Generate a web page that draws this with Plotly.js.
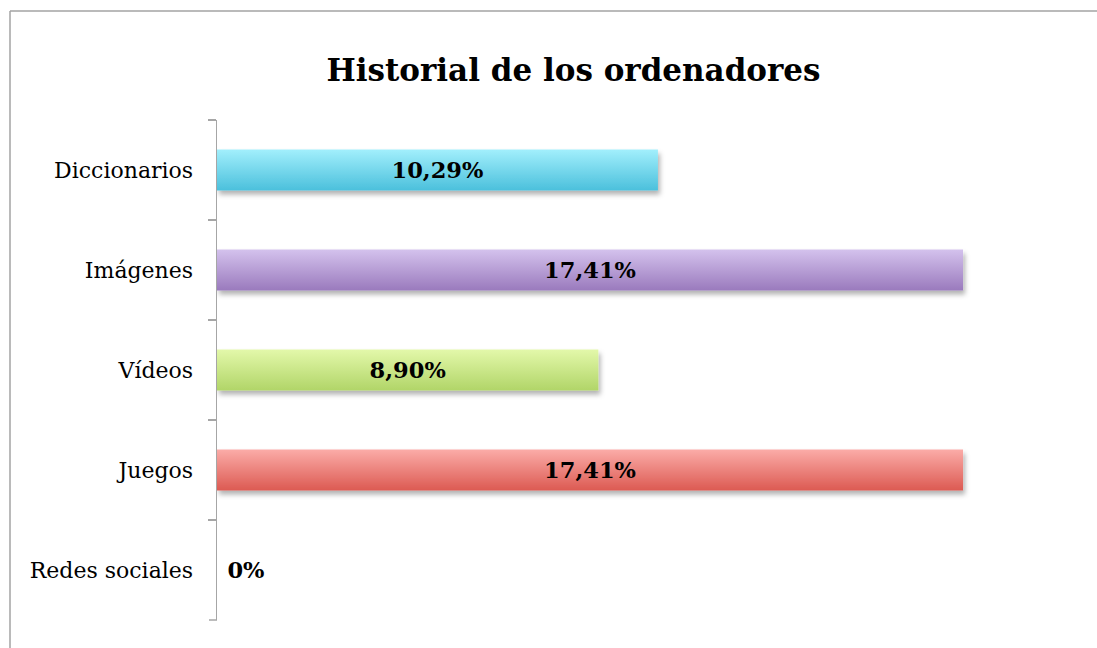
<!DOCTYPE html>
<html>
<head>
<meta charset="utf-8">
<script src="https://cdn.plot.ly/plotly-3.0.1.min.js"></script>
<style>
  html, body { margin: 0; padding: 0; background: #fff; }
  #chart { width: 1097px; height: 648px; }
</style>
</head>
<body>
<div id="chart"></div>
<script>
// ---- data (top to bottom) ----
const categories = ["Diccionarios", "Imágenes", "Vídeos", "Juegos", "Redes sociales"];
const values = [10.29, 17.41, 8.90, 17.41, 0];
const valueLabels = ["10,29%", "17,41%", "8,90%", "17,41%", "0%"];
const chartTitle = "Historial de los ordenadores";

// ---- styles ----
const FONT = "DejaVu Serif";
const topColors = ["#a2effc", "#d4c2ed", "#e3f8aa", "#fbaca8"];
const bottomColors = ["#4bc0dc", "#9a7abd", "#b1d568", "#dc5a52"];
const midColors = ["#76d8ec", "#b79ed6", "#cae789", "#ec837c"];

const trace = {
  type: "bar",
  orientation: "h",
  y: categories,
  x: values,
  width: 0.41,
  marker: { color: categories.map((c, i) => midColors[i % midColors.length]), line: { width: 0 } },
  text: valueLabels.map((t, i) => values[i] > 0 ? t : "\u2004" + t),
  textposition: values.map(v => v > 0 ? "inside" : "outside"),
  insidetextanchor: "middle",
  textangle: 0,
  textfont: { family: FONT, size: 22.5, color: "#000", weight: "bold" },
  outsidetextfont: { family: FONT, size: 22.5, color: "#000", weight: "bold" },
  cliponaxis: false,
  hoverinfo: "skip"
};

const L = 217, R = 1074, T = 120, B = 620;
const pw = R - L, ph = B - T;
const px2x = p => (p - L) / pw;
const py2y = p => (B - p) / ph;
const lineGray = "#a6a6a6";

const layout = {
  width: 1097,
  height: 648,
  margin: { l: L, r: 1097 - R, t: T, b: 648 - B, pad: 0 },
  paper_bgcolor: "#ffffff",
  plot_bgcolor: "#ffffff",
  showlegend: false,
  title: {
    text: "<b>" + chartTitle + "</b>",
    font: { family: FONT, size: 31, color: "#000" },
    xref: "container", x: 573.5 / 1097, xanchor: "center",
    yref: "container", y: 1 - 70 / 648, yanchor: "middle"
  },
  xaxis: { range: [0, 20], visible: false, fixedrange: true },
  yaxis: {
    autorange: "reversed",
    type: "category",
    showline: true, linecolor: lineGray, linewidth: 1.5,
    ticks: "outside", tickson: "boundaries", ticklen: 8, tickcolor: lineGray, tickwidth: 1.5,
    ticklabelstandoff: 18,
    showgrid: false, zeroline: false,
    tickfont: { family: FONT, size: 22, color: "#000" },
    fixedrange: true
  },
  shapes: [
    { type: "line", xref: "paper", yref: "paper", x0: px2x(10), x1: px2x(1110), y0: py2y(11), y1: py2y(11),
      line: { color: "#a3a3a3", width: 1.5 } },
    { type: "line", xref: "paper", yref: "paper", x0: px2x(10), x1: px2x(10), y0: py2y(11), y1: py2y(660),
      line: { color: "#a3a3a3", width: 1.5 } },
    { type: "line", xref: "paper", yref: "paper", x0: px2x(209), x1: 0, y0: 0, y1: 0,
      line: { color: lineGray, width: 1.5 } }
  ]
};

Plotly.newPlot("chart", [trace], layout, { staticPlot: true, displayModeBar: false }).then(gd => {
  const svgNS = "http://www.w3.org/2000/svg";
  const svg = gd.querySelector("svg.main-svg");
  let defs = svg.querySelector("defs");
  if (!defs) { defs = document.createElementNS(svgNS, "defs"); svg.insertBefore(defs, svg.firstChild); }
  const filt = document.createElementNS(svgNS, "filter");
  filt.setAttribute("id", "barShadow");
  filt.setAttribute("x", "-10%"); filt.setAttribute("y", "-30%");
  filt.setAttribute("width", "130%"); filt.setAttribute("height", "180%");
  const ds = document.createElementNS(svgNS, "feDropShadow");
  ds.setAttribute("dx", "2"); ds.setAttribute("dy", "4");
  ds.setAttribute("stdDeviation", "2.5");
  ds.setAttribute("flood-color", "#000"); ds.setAttribute("flood-opacity", "0.3");
  filt.appendChild(ds); defs.appendChild(filt);

  const paths = gd.querySelectorAll(".barlayer .trace .point path");
  paths.forEach((p, i) => {
    if (i >= topColors.length) return;
    const g = document.createElementNS(svgNS, "linearGradient");
    g.setAttribute("id", "barGrad" + i);
    g.setAttribute("x1", "0"); g.setAttribute("y1", "0");
    g.setAttribute("x2", "0"); g.setAttribute("y2", "1");
    const s1 = document.createElementNS(svgNS, "stop");
    s1.setAttribute("offset", "0"); s1.setAttribute("stop-color", topColors[i]);
    const s2 = document.createElementNS(svgNS, "stop");
    s2.setAttribute("offset", "1"); s2.setAttribute("stop-color", bottomColors[i]);
    g.appendChild(s1); g.appendChild(s2); defs.appendChild(g);
    p.style.fill = "url(#barGrad" + i + ")";
    p.setAttribute("filter", "url(#barShadow)");
  });
});
</script>
</body>
</html>
